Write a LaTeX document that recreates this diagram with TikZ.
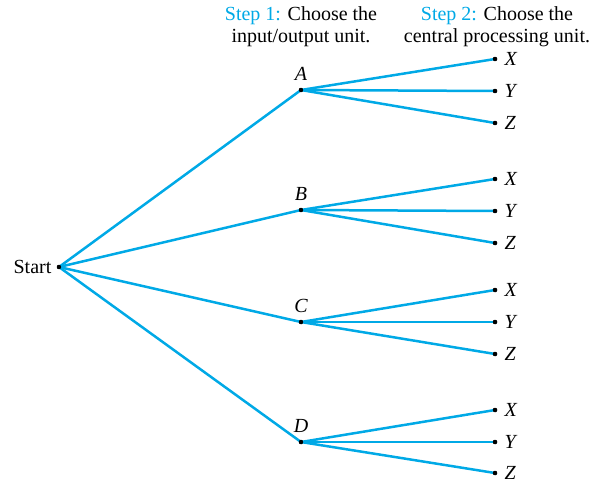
\documentclass[tikz,border=0pt]{standalone}
\usepackage{fontspec}
\setmainfont{Liberation Serif}
\usepackage{xcolor}
\usetikzlibrary{positioning}
\definecolor{branch}{HTML}{00A9E6}
\tikzset{
  pt/.style={circle,fill=black,inner sep=0pt,minimum size=4.4pt},
  edge/.style={draw=branch,line width=2.5pt},
  lbl/.style={font=\fontsize{20}{22}\selectfont\itshape,inner sep=2pt},
  hdr/.style={align=center,font=\fontsize{20}{22}\selectfont,inner sep=0pt},
}
\begin{document}
\begin{tikzpicture}[x=1pt,y=-1pt]
  \useasboundingbox (0,0) rectangle (601,484);
  % headers
  \node[hdr,anchor=north] (h1) at (301,6) {\textcolor{branch}{Step 1:} Choose the\\input/output unit.};
  \node[hdr,anchor=north] (h2) at (497,6) {\textcolor{branch}{Step 2:} Choose the\\central processing unit.};
  % root and first step
  \node[pt,label={[lbl,font=\fontsize{20}{22}\selectfont,label distance=3pt]left:Start}] (start) at (59,267) {};
  \node[pt,label={[lbl,label distance=5pt]above:A}] (a) at (301,90) {};
  \node[pt,label={[lbl,label distance=5pt]above:B}] (b) at (301,210) {};
  \node[pt,label={[lbl,label distance=5pt]above:C}] (c) at (301,322) {};
  \node[pt,label={[lbl,label distance=5pt]above:D}] (d) at (301,442) {};
  % second step
  \node[pt,label={[lbl,label distance=5pt]right:X}] (ax) at (495,59) {};
  \node[pt,label={[lbl,label distance=5pt]right:Y}] (ay) at (495,91) {};
  \node[pt,label={[lbl,label distance=5pt]right:Z}] (az) at (495,123) {};
  \node[pt,label={[lbl,label distance=5pt]right:X}] (bx) at (495,179) {};
  \node[pt,label={[lbl,label distance=5pt]right:Y}] (by) at (495,211) {};
  \node[pt,label={[lbl,label distance=5pt]right:Z}] (bz) at (495,243) {};
  \node[pt,label={[lbl,label distance=5pt]right:X}] (cx) at (495,290) {};
  \node[pt,label={[lbl,label distance=5pt]right:Y}] (cy) at (495,322) {};
  \node[pt,label={[lbl,label distance=5pt]right:Z}] (cz) at (495,354) {};
  \node[pt,label={[lbl,label distance=5pt]right:X}] (dx) at (495,410) {};
  \node[pt,label={[lbl,label distance=5pt]right:Y}] (dy) at (495,442) {};
  \node[pt,label={[lbl,label distance=5pt]right:Z}] (dz) at (495,473) {};
  \draw[edge] (start.center)--(a.center);\draw[edge] (start.center)--(b.center);\draw[edge] (start.center)--(c.center);\draw[edge] (start.center)--(d.center);
  \draw[edge] (a.center)--(ax.center);\draw[edge] (a.center)--(ay.center);\draw[edge] (a.center)--(az.center);
  \draw[edge] (b.center)--(bx.center);\draw[edge] (b.center)--(by.center);\draw[edge] (b.center)--(bz.center);
  \draw[edge] (c.center)--(cx.center);\draw[edge] (c.center)--(cy.center);\draw[edge] (c.center)--(cz.center);
  \draw[edge] (d.center)--(dx.center);\draw[edge] (d.center)--(dy.center);\draw[edge] (d.center)--(dz.center);
  % dots on top
  \foreach \n in {start,a,b,c,d,ax,ay,az,bx,by,bz,cx,cy,cz,dx,dy,dz} \fill (\n) circle (2.2pt);
\end{tikzpicture}
\end{document}
